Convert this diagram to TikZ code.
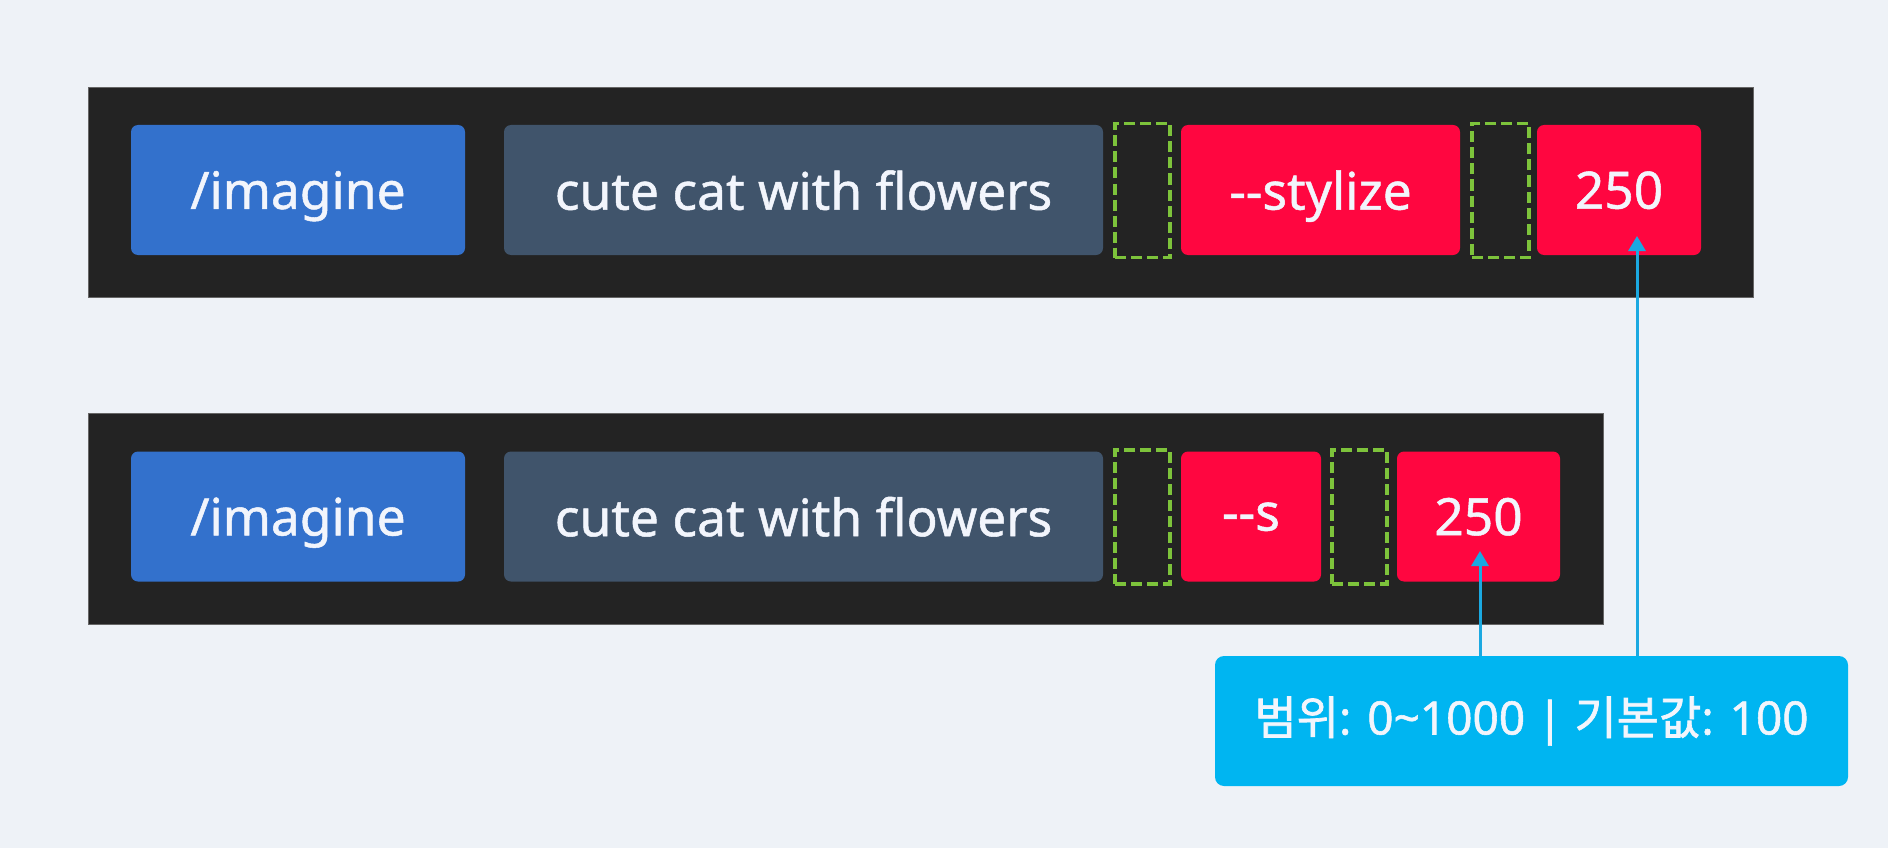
\documentclass[tikz,border=0pt]{standalone}
\usepackage{fontspec}
\setmainfont{Noto Sans}[FakeBold=1.2]
\newfontfamily\tokfont{Noto Sans}[FakeBold=1.0]
\newfontfamily\kr{Noto Sans CJK KR}[FakeBold=1.5]
\newfontfamily\krlat{Noto Sans}[FakeBold=1.2]
\usetikzlibrary{arrows.meta}
\definecolor{bg}{HTML}{EEF2F7}
\definecolor{bar}{HTML}{232323}
\definecolor{bluebox}{HTML}{3371CC}
\definecolor{graybox}{HTML}{40546B}
\definecolor{redbox}{HTML}{FF0640}
\definecolor{greendash}{HTML}{7DC33B}
\definecolor{callcol}{HTML}{00B5F1}
\definecolor{arrcol}{HTML}{1BA9E1}
\definecolor{txt}{HTML}{F2F5FC}
\tikzset{
  barbox/.style={fill=bar, draw=black!60, line width=0.6pt},
  tok/.style={rounded corners=7pt, inner sep=0pt, text=txt, font=\tokfont\fontsize{51.5}{60}\selectfont, minimum height=130pt, text depth=0pt},
  spacebox/.style={draw=greendash, line width=3.6pt, dash pattern=on 11pt off 5pt, inner sep=0pt, minimum height=134pt},
  callout/.style={fill=callcol, rounded corners=9pt, inner sep=0pt, text=txt, font=\krlat\fontsize{46}{52}\selectfont, minimum width=633pt, minimum height=130pt},
  arr/.style={draw=arrcol, line width=3pt, -{Triangle[width=17pt,length=15pt]}}
}
\begin{document}
\begin{tikzpicture}[x=1pt,y=-1pt]
\path[fill=bg] (0,0) rectangle (1888,848);
\useasboundingbox (0,0) rectangle (1888,848);
% top bar
\node[barbox, inner sep=0pt, minimum width=1665pt, minimum height=210pt] (bar1) at (920.5,192) {};
\node[tok, fill=bluebox, minimum width=334pt] (im1) at (298,190) {/imagine};
\node[tok, fill=graybox, minimum width=599pt] (pr1) at (803.5,190) {cute cat with flowers};
\node[spacebox, minimum width=55pt] (sp1a) at (1142.5,190.5) {};
\node[tok, fill=redbox, minimum width=279pt] (op1) at (1320.5,190) {-{}-stylize};
\node[spacebox, minimum width=57pt] (sp1b) at (1500.5,190.5) {};
\node[tok, fill=redbox, minimum width=164pt] (v1) at (1619,190) {250};
% bottom bar
\node[barbox, inner sep=0pt, minimum width=1515pt, minimum height=211pt] (bar2) at (845.5,518.5) {};
\node[tok, fill=bluebox, minimum width=334pt] (im2) at (298,516.5) {/imagine};
\node[tok, fill=graybox, minimum width=599pt] (pr2) at (803.5,516.5) {cute cat with flowers};
\node[spacebox, minimum width=55pt] (sp2a) at (1142.5,517) {};
\node[tok, fill=redbox, minimum width=140pt] (op2) at (1251,516.5) {-{}-s};
\node[spacebox, minimum width=55pt] (sp2b) at (1359.5,517) {};
\node[tok, fill=redbox, minimum width=163pt] (v2) at (1478.5,516.5) {250};
% callout
\node[callout] (call) at (1531.5,721) {{\kr 범위}: 0\char"007E 1000 | {\kr 기본값}: 100};
\coordinate (t1) at (1637,236);
\coordinate (t2) at (1480,551);
\draw[arr] (call.north -| t1) -- (t1);
\draw[arr] (call.north -| t2) -- (t2);
\end{tikzpicture}
\end{document}
